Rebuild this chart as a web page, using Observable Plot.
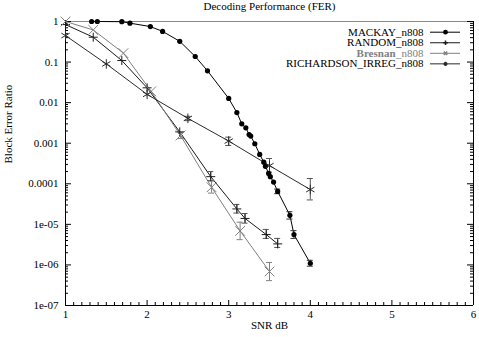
<!DOCTYPE html>
<html>
<head>
<meta charset="utf-8">
<script src="https://cdn.jsdelivr.net/npm/d3@7"></script>
<script src="https://cdn.jsdelivr.net/npm/@observablehq/plot@0.6"></script>
<style>
  html, body { margin: 0; padding: 0; background: #fff; }
  #chart svg { display: block; }
  #chart svg text { font-family: "Liberation Serif", "DejaVu Serif", serif; }
</style>
</head>
<body>
<div id="chart"></div>
<script>
// ---- Data ----
const seriesNames = ["MACKAY_n808", "RANDOM_n808", "Bresnan_n808", "RICHARDSON_IRREG_n808"];

const mackayX = [1.32, 1.39, 1.69, 1.79, 2.04, 2.19, 2.40, 2.59, 2.74, 3.00, 3.10, 3.16, 3.21, 3.25, 3.27, 3.32, 3.38, 3.43, 3.45, 3.49, 3.51, 3.55, 3.60, 3.75, 3.80, 4.00];
const mackayY = [1.0, 1.0, 0.99, 0.91, 0.75, 0.57, 0.325, 0.137, 0.061, 0.0127, 0.0057, 0.0030, 0.0024, 0.00164, 0.0015, 0.00097, 0.00053, 0.00034, 0.00027, 0.00018, 0.00015, 0.00011, 6.5e-5, 1.67e-5, 5.6e-6, 1.1e-6];
const mackayErrX = [3.60, 3.75, 3.80, 4.00];
const mackayErrLo = [5.7e-5, 1.35e-5, 4.5e-6, 9.3e-7];
const mackayErrHi = [7.4e-5, 2.05e-5, 7.0e-6, 1.3e-6];

const randomX = [1.00, 1.34, 1.69, 2.00, 2.40, 2.78, 3.10, 3.20, 3.46, 3.60];
const randomY = [0.84, 0.41, 0.109, 0.0232, 0.0019, 1.5e-4, 2.4e-5, 1.4e-5, 5.6e-6, 3.3e-6];
const randomErrX = [2.78, 3.10, 3.20, 3.46, 3.60];
const randomErrLo = [1.2e-4, 1.9e-5, 1.07e-5, 4.5e-6, 2.7e-6];
const randomErrHi = [2.0e-4, 3.1e-5, 1.85e-5, 7.5e-6, 4.5e-6];

const bresnanX = [1.00, 1.34, 1.71, 2.05, 2.41, 2.79, 3.14, 3.50];
const bresnanY = [1.0, 0.62, 0.166, 0.019, 0.00155, 8.2e-5, 6.9e-6, 6.9e-7];
const bresnanErrX = [2.41, 2.79, 3.14, 3.50];
const bresnanErrLo = [1.3e-3, 5.9e-5, 4.2e-6, 4.1e-7];
const bresnanErrHi = [1.85e-3, 1.16e-4, 1.13e-5, 1.15e-6];

const richX = [1.0, 1.5, 2.0, 2.5, 3.0, 3.5, 4.0];
const richY = [0.45, 0.09, 0.016, 0.0041, 0.00113, 2.8e-4, 7.2e-5];
const richErrX = [2.5, 3.0, 3.5, 4.0];
const richErrLo = [3.6e-3, 8.8e-4, 1.93e-4, 4.0e-5];
const richErrHi = [4.6e-3, 1.41e-3, 4.2e-4, 1.35e-4];

const xTicks = [1, 2, 3, 4, 5, 6];
const xTickLabels = ["1", "2", "3", "4", "5", "6"];
const yTicks = [1, 0.1, 0.01, 0.001, 0.0001, 1e-5, 1e-6, 1e-7];
const yTickLabels = ["1", "0.1", "0.01", "0.001", "0.0001", "1e-05", "1e-06", "1e-07"];

// ---- Build tables ----
const zip = (xs, ys) => xs.map((x, i) => ({x, y: ys[i]}));
const zipErr = (xs, lo, hi) => xs.map((x, i) => ({x, lo: lo[i], hi: hi[i]}));

const series = [
  {name: seriesNames[0], pts: zip(mackayX, mackayY), err: zipErr(mackayErrX, mackayErrLo, mackayErrHi),
   color: "#000", errColor: "#333", symbol: "circle", filled: true, r: 2.6, lr: 2.4},
  {name: seriesNames[1], pts: zip(randomX, randomY), err: zipErr(randomErrX, randomErrLo, randomErrHi),
   color: "#1a1a1a", errColor: "#555", symbol: "plus", filled: false, r: 3, lr: 1.6},
  {name: seriesNames[2], pts: zip(bresnanX, bresnanY), err: zipErr(bresnanErrX, bresnanErrLo, bresnanErrHi),
   color: "#808080", errColor: "#808080", symbol: "times", filled: false, r: 4.5, lr: 1.7},
  {name: seriesNames[3], pts: zip(richX, richY), err: zipErr(richErrX, richErrLo, richErrHi),
   color: "#2a2a2a", errColor: "#555", symbol: "asterisk", filled: false, r: 4.5, lr: 1.9}
];

// minor ticks
const xMinor = d3.range(10, 61).map(v => v / 10).filter(v => !xTicks.includes(v));
const yMinor = [];
for (let e = -7; e < 0; e++) for (let k = 2; k <= 9; k++) yMinor.push(k * Math.pow(10, e));

const W = 479, H = 337;
const mT = 21, mR = 6, mB = 32, mL = 65;
const fw = W - mL - mR, fh = H - mT - mB;
const font = "Liberation Serif";

const marks = [];

// frame
marks.push(Plot.ruleY([1], {y: d => d, stroke: "#888"}));
marks.push(Plot.ruleY([1e-7], {y: d => d, stroke: "#000"}));
marks.push(Plot.ruleX([1, 6], {x: d => d, stroke: "#000"}));

// ticks (inward)
marks.push(Plot.tickX(xTicks, {x: d => d, insetTop: fh - 5, stroke: "#000"}));
marks.push(Plot.tickX(xMinor, {x: d => d, insetTop: fh - 3, stroke: "#000"}));
marks.push(Plot.tickY(yTicks, {y: d => d, insetRight: fw - 6, stroke: "#000"}));
marks.push(Plot.tickY(yMinor, {y: d => d, insetRight: fw - 3, stroke: "#000"}));
marks.push(Plot.tickY(yTicks, {y: d => d, insetLeft: fw - 6, stroke: "#000"}));
marks.push(Plot.tickY(yMinor, {y: d => d, insetLeft: fw - 3, stroke: "#000"}));

// axes labels
marks.push(Plot.axisX(xTicks, {tickSize: 0, tickPadding: 5, tickFormat: d => xTickLabels[xTicks.indexOf(d)], label: null, fontSize: 11, fontFamily: font}));
marks.push(Plot.axisY(yTicks, {tickSize: 0, tickPadding: 7, tickFormat: d => yTickLabels[yTicks.indexOf(d)], label: null, fontSize: 11, fontFamily: font}));

// series lines
for (const s of series) {
  marks.push(Plot.line(s.pts, {x: "x", y: "y", stroke: s.color, strokeWidth: 1}));
}
// error bars
for (const s of series) {
  marks.push(Plot.ruleX(s.err, {x: "x", y1: "lo", y2: "hi", stroke: s.errColor, strokeWidth: 1}));
  marks.push(Plot.ruleY(s.err, {y: "lo", x1: "x", x2: "x", insetLeft: -3, insetRight: -3, stroke: s.errColor, strokeWidth: 1}));
  marks.push(Plot.ruleY(s.err, {y: "hi", x1: "x", x2: "x", insetLeft: -3, insetRight: -3, stroke: s.errColor, strokeWidth: 1}));
}
// markers
for (const s of series) {
  marks.push(Plot.dot(s.pts, s.filled
    ? {x: "x", y: "y", r: s.r, fill: s.color, stroke: "none", symbol: s.symbol}
    : {x: "x", y: "y", r: s.r, stroke: s.color, fill: "none", strokeWidth: 1, symbol: s.symbol}));
}

// legend
series.forEach((s, i) => {
  const dy = 10.7 + i * 10.55;
  marks.push(Plot.ruleY([1], {y: d => d, dy, insetLeft: 365, insetRight: 13, stroke: s.color}));
  marks.push(Plot.dot([0], s.filled
    ? {frameAnchor: "top-right", dx: -28, dy, r: s.lr, fill: s.color, stroke: "none", symbol: s.symbol}
    : {frameAnchor: "top-right", dx: -28, dy, r: s.lr, stroke: s.color, fill: "none", symbol: s.symbol}));
  if (i === 2) {
    marks.push(Plot.text(["_n808"], {frameAnchor: "top-right", dx: -50, dy, text: d => d, textAnchor: "end", lineAnchor: "middle", fill: "#808080", fontSize: 11, fontFamily: font}));
    marks.push(Plot.text(["Bresnan"], {frameAnchor: "top-right", dx: -78, dy, text: d => d, textAnchor: "end", lineAnchor: "middle", fill: "#808080", fontSize: 11, fontWeight: "bold", fontFamily: font}));
  } else {
    marks.push(Plot.text([s.name], {frameAnchor: "top-right", dx: -50, dy, text: d => d, textAnchor: "end", lineAnchor: "middle", fill: "#000", fontSize: 11, fontFamily: font}));
  }
});

// title and axis titles
marks.push(Plot.text(["Decoding Performance (FER)"], {frameAnchor: "top", dy: -15, text: d => d, lineAnchor: "middle", fontSize: 11, fontFamily: font}));
marks.push(Plot.text(["SNR dB"], {frameAnchor: "bottom", dy: 20, text: d => d, lineAnchor: "middle", fontSize: 11, fontFamily: font}));
marks.push(Plot.text(["Block Error Ratio"], {frameAnchor: "left", dx: -57, text: d => d, rotate: -90, lineAnchor: "middle", fontSize: 11, fontFamily: font}));

const chart = Plot.plot({
  width: W,
  height: H,
  marginTop: mT, marginRight: mR, marginBottom: mB, marginLeft: mL,
  style: {fontFamily: font, fontSize: "11px", background: "#fff", color: "#000"},
  x: {type: "linear", domain: [1, 6], axis: null},
  y: {type: "log", domain: [1e-7, 1], axis: null},
  marks
});
document.getElementById("chart").appendChild(chart);
</script>
</body>
</html>
